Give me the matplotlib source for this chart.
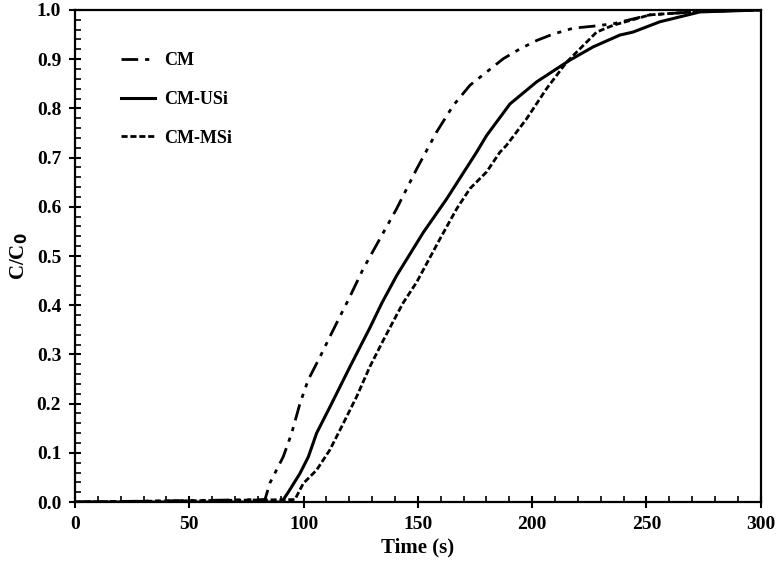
import matplotlib
matplotlib.use("Agg")
import matplotlib.pyplot as plt
from matplotlib.ticker import MultipleLocator

plt.rcParams['font.family'] = ['Liberation Serif', 'DejaVu Serif']
plt.rcParams['font.weight'] = 'bold'

# breakthrough curves
t_cm = [0, 83.1, 85.3, 91.1, 94.8, 98.4, 102.0, 107.2, 111.5, 115.9, 119.6,
        126.1, 133.4, 140.7, 149.5, 158.2, 165.5, 172.8, 180.1, 187.4,
        194.7, 202.0, 209.2, 218.0, 226.7, 235.5, 251.5, 273.4, 300]
c_cm = [0, 0.005, 0.039, 0.092, 0.14, 0.20, 0.248, 0.295, 0.336, 0.377, 0.411,
        0.474, 0.535, 0.596, 0.677, 0.752, 0.806, 0.847, 0.874, 0.901,
        0.921, 0.938, 0.951, 0.963, 0.967, 0.972, 0.99, 0.997, 1.0]

t_usi = [0, 90.4, 93.3, 98.4, 102.1, 105.7, 111.5, 115.9, 120.3, 124.7, 129.0,
         134.2, 140.7, 152.4, 162.6, 175.7, 180.1, 190.3, 202.0, 216.5,
         226.7, 238.4, 244.1, 255.9, 273.4, 300]
c_usi = [0, 0.0, 0.02, 0.058, 0.092, 0.140, 0.193, 0.234, 0.275, 0.315, 0.354,
         0.404, 0.46, 0.548, 0.616, 0.711, 0.745, 0.809, 0.854, 0.898,
         0.925, 0.949, 0.955, 0.976, 0.996, 1.0]

t_msi = [0, 96.2, 99.9, 105.7, 111.5, 117.4, 123.2, 129.0, 134.9, 140.7, 143.6,
         149.5, 159.7, 167.0, 172.8, 180.1, 185.9, 188.8, 197.6, 206.3,
         215.1, 222.4, 228.2, 235.5, 251.5, 273.4, 300]
c_msi = [0, 0.005, 0.038, 0.065, 0.106, 0.16, 0.214, 0.275, 0.329, 0.380, 0.405,
         0.447, 0.535, 0.596, 0.637, 0.671, 0.711, 0.725, 0.779, 0.84,
         0.894, 0.928, 0.955, 0.969, 0.99, 0.997, 1.0]

fig = plt.figure(figsize=(7.79, 5.66), dpi=100)
ax = fig.add_axes([0.0963, 0.113, 0.8802, 0.8694])

ax.plot(t_cm, c_cm, color='black', lw=2.0, dashes=(6, 2.5, 1.5, 2.5, 1.5, 2.5), label='CM')
ax.plot(t_usi, c_usi, color='black', lw=2.2, label='CM-USi')
ax.plot(t_msi, c_msi, color='black', lw=2.0, dashes=(2.2, 1.0), label='CM-MSi')

ax.set_xlim(0, 300)
ax.set_ylim(0, 1.0)
ax.xaxis.set_major_locator(MultipleLocator(50))
ax.xaxis.set_minor_locator(MultipleLocator(10))
ax.yaxis.set_major_locator(MultipleLocator(0.1))
ax.yaxis.set_minor_locator(MultipleLocator(0.02))
ax.yaxis.set_major_formatter(lambda v, p: f"{v:.1f}")

for s in ax.spines.values():
    s.set_linewidth(1.6)
ax.tick_params(which='major', direction='inout', length=8, width=1.5,
               labelsize=14, pad=6)
ax.tick_params(which='minor', direction='in', length=4, width=1.2)
for lab in ax.get_xticklabels() + ax.get_yticklabels():
    lab.set_fontweight('bold')

ax.set_xlabel('Time (s)', fontsize=15, fontweight='bold', labelpad=3)
ax.set_ylabel('C/C$_\\mathbf{0}$', fontsize=15, fontweight='bold', labelpad=5)

ax.legend(loc='upper left', bbox_to_anchor=(0.043, 0.947), frameon=False,
          prop={'weight': 'bold', 'size': 13}, handlelength=1.9,
          labelspacing=1.2, handletextpad=0.5)

fig.savefig('out.png', dpi=100)
